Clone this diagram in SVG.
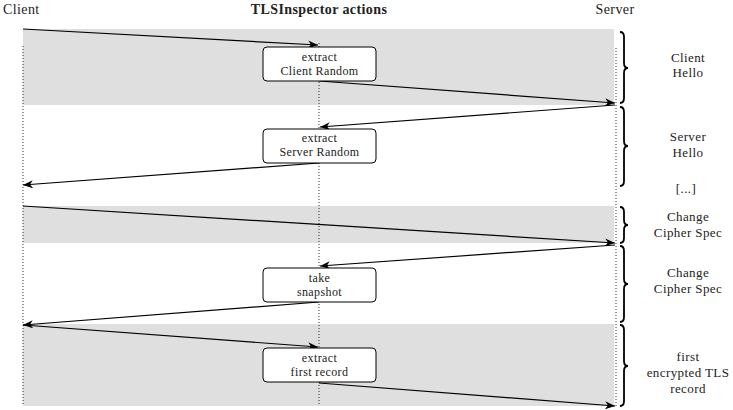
<svg xmlns="http://www.w3.org/2000/svg" width="733" height="410" viewBox="0 0 733 410">
  <style>
    text { font-family: "Liberation Serif", "DejaVu Serif", serif; fill: #222; letter-spacing: 0.4px; }
    .hdr { font-size: 14px; }
    .bold { font-weight: bold; }
    .box rect { fill: #fff; stroke: #000; stroke-width: 1; }
    .box text { font-size: 12px; text-anchor: middle; }
    .lbl { font-size: 13px; text-anchor: middle; }
    .band { fill: #dfdfdf; }
    .life { stroke: #000; stroke-width: 0.8; stroke-dasharray: 1 2; fill: none; }
    .msg { stroke: #000; stroke-width: 1.2; fill: none; }
    .brace { stroke: #000; stroke-width: 1.8; fill: none; }
  </style>
  <defs>
    <marker id="ah" viewBox="0 0 10 8" refX="10" refY="4" markerWidth="10" markerHeight="8" markerUnits="userSpaceOnUse" orient="auto">
      <path d="M0,0 L10,4 L0,8 L3,4 Z" fill="#000"/>
    </marker>
  </defs>

  <!-- shaded message bands -->
  <rect class="band" x="23" y="29" width="591" height="76"/>
  <rect class="band" x="23" y="206" width="591" height="37"/>
  <rect class="band" x="23" y="324" width="591" height="82"/>

  <!-- column headers -->
  <text class="hdr" x="3" y="14">Client</text>
  <text class="hdr bold" x="319" y="14" text-anchor="middle">TLSInspector actions</text>
  <text class="hdr" x="615" y="14" text-anchor="middle">Server</text>

  <!-- lifelines -->
  <g id="lifelines">
    <line class="life" x1="23" y1="46" x2="23" y2="406"/>
    <line class="life" x1="319" y1="43" x2="319" y2="406"/>
    <line class="life" x1="616" y1="48" x2="616" y2="406"/>
  </g>

  <g id="connectors">
    <line class="msg" x1="23" y1="29" x2="318" y2="45" marker-end="url(#ah)"/>
    <line class="msg" x1="319" y1="81" x2="615" y2="103" marker-end="url(#ah)"/>
    <line class="msg" x1="615" y1="105" x2="320" y2="127" marker-end="url(#ah)"/>
    <line class="msg" x1="319" y1="163" x2="23" y2="185" marker-end="url(#ah)"/>
    <line class="msg" x1="23" y1="206" x2="615" y2="243" marker-end="url(#ah)"/>
    <line class="msg" x1="615" y1="245" x2="320" y2="266" marker-end="url(#ah)"/>
    <line class="msg" x1="319" y1="302" x2="23" y2="325" marker-end="url(#ah)"/>
    <line class="msg" x1="23" y1="325" x2="318" y2="347" marker-end="url(#ah)"/>
    <line class="msg" x1="319" y1="383" x2="615" y2="406" marker-end="url(#ah)"/>
  </g>

  <g id="extract-client-random" class="box">
    <rect x="263" y="47" width="113" height="34" rx="4"/>
    <text x="319.5" y="61">extract</text>
    <text x="319.5" y="75">Client Random</text>
  </g>
  <g id="extract-server-random" class="box">
    <rect x="263" y="129" width="113" height="34" rx="4"/>
    <text x="319.5" y="142">extract</text>
    <text x="319.5" y="156">Server Random</text>
  </g>
  <g id="take-snapshot" class="box">
    <rect x="263" y="268" width="113" height="34" rx="4"/>
    <text x="319.5" y="282">take</text>
    <text x="319.5" y="296">snapshot</text>
  </g>
  <g id="extract-first-record" class="box">
    <rect x="263" y="348" width="113" height="34" rx="4"/>
    <text x="319.5" y="362">extract</text>
    <text x="319.5" y="376">first record</text>
  </g>

  <!-- phase braces and labels -->
  <g id="phase-client-hello">
    <path class="brace" d="M620,32 Q624,32 624,37 L624,63 Q624,68 628,68 Q624,68 624,73 L624,98 Q624,103 620,103"/>
    <text class="lbl" x="688" y="62">Client</text>
    <text class="lbl" x="688" y="77">Hello</text>
  </g>
  <g id="phase-server-hello">
    <path class="brace" d="M620,107 Q624,107 624,112 L624,141 Q624,146 628,146 Q624,146 624,151 L624,181 Q624,186 620,186"/>
    <text class="lbl" x="688" y="141">Server</text>
    <text class="lbl" x="688" y="157">Hello</text>
  </g>
  <text class="lbl" x="686" y="193">[...]</text>
  <g id="phase-change-cipher-spec-1">
    <path class="brace" d="M620,207 Q624,207 624,212 L624,220 Q624,225 628,225 Q624,225 624,230 L624,238 Q624,243 620,243"/>
    <text class="lbl" x="688" y="221">Change</text>
    <text class="lbl" x="688" y="237">Cipher Spec</text>
  </g>
  <g id="phase-change-cipher-spec-2">
    <path class="brace" d="M620,246 Q624,246 624,251 L624,279 Q624,284 628,284 Q624,284 624,289 L624,317 Q624,322 620,322"/>
    <text class="lbl" x="688" y="277">Change</text>
    <text class="lbl" x="688" y="293">Cipher Spec</text>
  </g>
  <g id="phase-first-record">
    <path class="brace" d="M620,325 Q624,325 624,330 L624,361 Q624,366 628,366 Q624,366 624,371 L624,401 Q624,406 620,406"/>
    <text class="lbl" x="688" y="361">first</text>
    <text class="lbl" x="688" y="377">encrypted TLS</text>
    <text class="lbl" x="688" y="393">record</text>
  </g>
</svg>
